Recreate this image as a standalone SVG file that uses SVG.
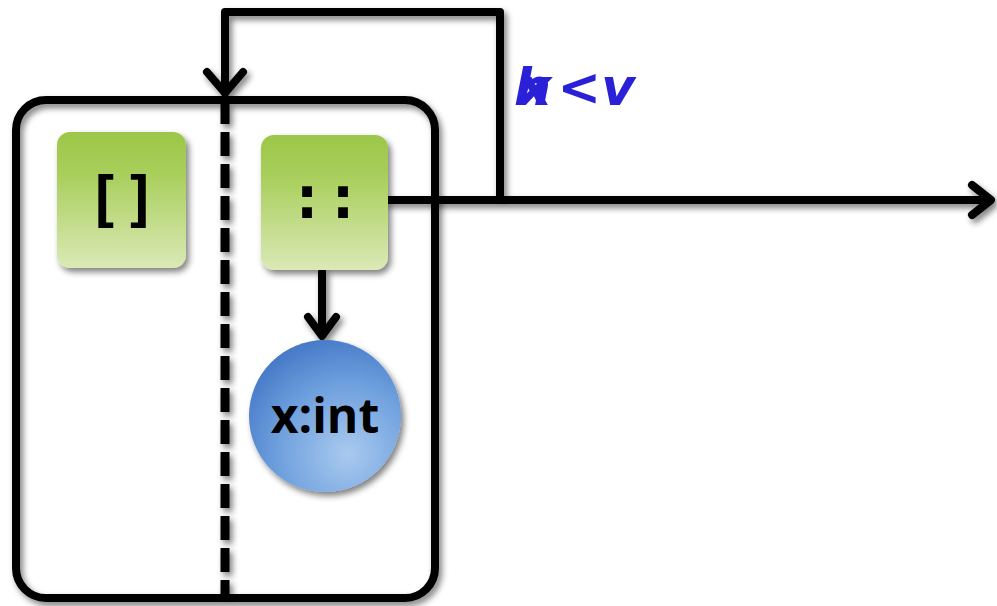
<svg xmlns="http://www.w3.org/2000/svg" width="997" height="606" viewBox="0 0 997 606">
<style>
.ln{fill:none;stroke:#000;stroke-width:8;stroke-linecap:round;stroke-linejoin:round}
.gbox{fill:url(#green);filter:url(#sh)}
.mono{font-family:"DejaVu Sans Mono","Liberation Mono",monospace;font-weight:bold;font-size:60px;fill:#000;text-anchor:middle}
</style>
<defs>
<linearGradient id="green" x1="0" y1="0" x2="0" y2="1">
<stop offset="0" stop-color="#9cc748"/>
<stop offset="0.3" stop-color="#a8ce5b"/>
<stop offset="1" stop-color="#dbe9b6"/>
</linearGradient>
<radialGradient id="blue" cx="0.65" cy="0.75" r="0.8">
<stop offset="0" stop-color="#a9caef"/>
<stop offset="0.6" stop-color="#6c9edd"/>
<stop offset="1" stop-color="#4478c6"/>
</radialGradient>
<filter id="sh" x="-20%" y="-20%" width="150%" height="150%">
<feGaussianBlur in="SourceAlpha" stdDeviation="3"/>
<feOffset dx="3" dy="4"/>
<feComponentTransfer><feFuncA type="linear" slope="0.5"/></feComponentTransfer>
<feMerge><feMergeNode/><feMergeNode in="SourceGraphic"/></feMerge>
</filter>
</defs>
<rect width="997" height="606" fill="#fff"/>

<g id="frame" filter="url(#sh)">
<rect x="16" y="100" width="419" height="498" rx="30" fill="none" stroke="#000" stroke-width="8"/>
<line x1="225" y1="100" x2="225" y2="598" stroke="#000" stroke-width="9" stroke-dasharray="24 8"/>
</g>

<g id="connectors" filter="url(#sh)">
<path class="ln" d="M388,200 H500 V12 H225 V93"/>
<path class="ln" d="M207,72 L225,93 L243,72"/>
<path class="ln" d="M388,200 H990"/>
<path class="ln" d="M972,185 L991,200 L972,215"/>
<path class="ln" d="M322,272 V335"/>
<path class="ln" d="M308,317 L322,336 L336,317"/>
</g>

<g id="nil">
<rect class="gbox" x="57" y="132" width="129" height="136" rx="13"/>
<text class="mono" x="122" y="220">[]</text>
</g>

<g id="cons">
<rect class="gbox" x="261" y="135" width="127" height="135" rx="13"/>
<text class="mono" x="325" y="218">::</text>
</g>

<g id="xint">
<circle cx="325" cy="416" r="76" fill="url(#blue)" filter="url(#sh)"/>
<text x="325" y="433" font-family="'Open Sans','Liberation Sans',sans-serif" font-weight="bold" font-size="48" text-anchor="middle" fill="#000">x:int</text>
</g>

<g id="label">
<text x="514" y="105" font-family="'DejaVu Sans','Liberation Sans',sans-serif" font-weight="bold" font-style="italic" font-size="52" fill="#2a20d8">h<tspan dx="-33">x</tspan><tspan dx="6">&lt;v</tspan></text>
</g>
</svg>
